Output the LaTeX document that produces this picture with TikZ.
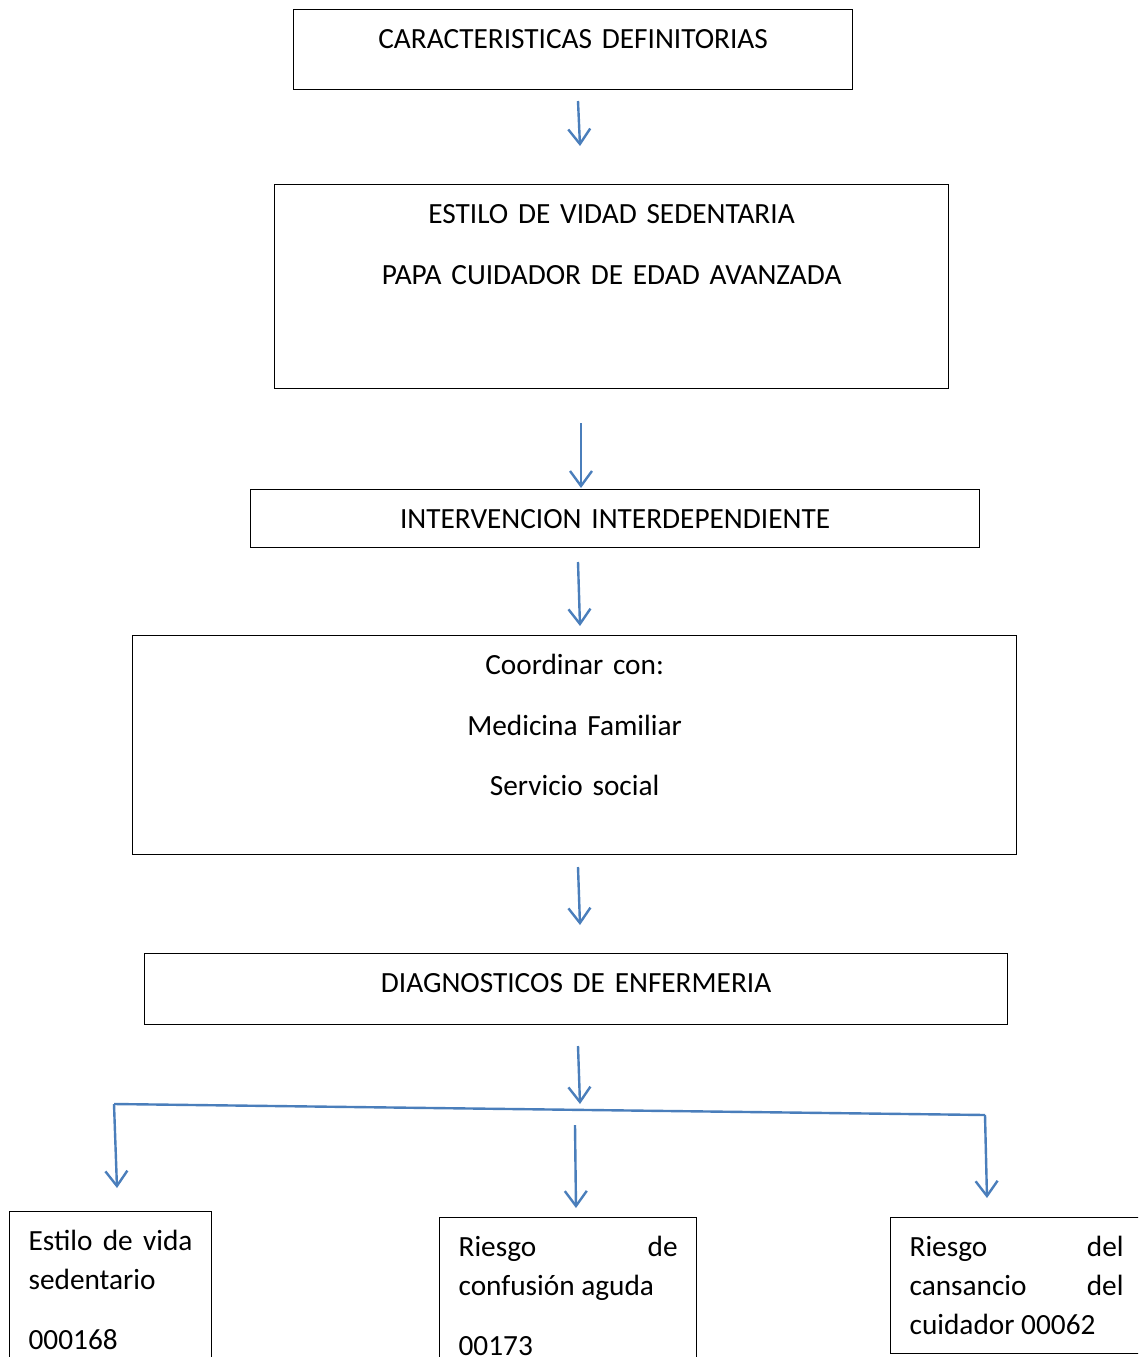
\documentclass[tikz,border=0pt]{standalone}
\usepackage{fontspec}
\setmainfont{Carlito}
\usetikzlibrary{arrows.meta,positioning}
\definecolor{Ac}{HTML}{4A7EBB}
\hbadness=10000

\begin{document}
\begin{tikzpicture}[x=1pt, y=-1pt, font=\fontsize{29.3pt}{39pt}\selectfont,
    box/.style={draw, line width=1.2pt, anchor=north west, inner sep=0pt, text height=39pt},
    cbox/.style={box, align=center},
    jbox/.style={box, inner xsep=19pt, align=justify},
    arr/.style={draw=Ac, line width=2.4pt, -{Straight Barb[length=15pt,width=22pt]}}]
  \useasboundingbox (0,0) rectangle (1138,1357);
  \clip (0,0) rectangle (1138,1357);
  \node[cbox, text width=559pt, text depth=41pt] (cd) at (293,9) {CARACTERISTICAS DEFINITORIAS};
  \node[cbox, text width=674pt, text depth=165pt] (ev) at (274,184) {ESTILO DE VIDAD SEDENTARIA\\[22pt] PAPA CUIDADOR DE EDAD AVANZADA};
  \node[cbox, text width=729pt, text depth=19pt] (ii) at (250,489) {INTERVENCION INTERDEPENDIENTE};
  \node[cbox, text width=884pt, text depth=180pt] (co) at (132,635) {Coordinar con:\\[21.5pt] Medicina Familiar\\[21.5pt] Servicio social};
  \node[cbox, text width=863pt, text depth=32pt] (de) at (144,953) {DIAGNOSTICOS DE ENFERMERIA};
  \node[jbox, text width=164pt, text depth=200pt] (d1) at (9,1211) {Estilo de vida\linebreak sedentario\par\vspace{21pt}000168};
  \node[jbox, text width=219pt, text depth=200pt] (d2) at (439,1217) {Riesgo de\linebreak confusión aguda\par\vspace{21pt}00173};
  \node[jbox, text width=214pt, text depth=97pt] (d3) at (890,1217) {Riesgo del\linebreak cansancio del\linebreak cuidador 00062};
  \coordinate (a1) at (578,101);  \coordinate (b1) at (580,146);
  \coordinate (a2) at (581,423);  \coordinate (b2) at (581,488);
  \coordinate (a3) at (578,562);  \coordinate (b3) at (580,626);
  \coordinate (a4) at (578,867);  \coordinate (b4) at (580,925);
  \coordinate (a5) at (578,1046); \coordinate (b5) at (580,1104);
  \coordinate (bl) at (114,1104); \coordinate (br) at (985,1115);
  \coordinate (t1) at (117,1188);
  \coordinate (m0) at (575,1125); \coordinate (t2) at (576,1208);
  \coordinate (t3) at (987,1198);
  \draw[arr] (a1) -- (b1);
  \draw[arr] (a2) -- (b2);
  \draw[arr] (a3) -- (b3);
  \draw[arr] (a4) -- (b4);
  \draw[arr] (a5) -- (b5);
  \draw[Ac, line width=2.4pt] (bl) -- (br);
  \draw[arr] (bl) -- (t1);
  \draw[arr] (m0) -- (t2);
  \draw[arr] (br) -- (t3);
\end{tikzpicture}
\end{document}
